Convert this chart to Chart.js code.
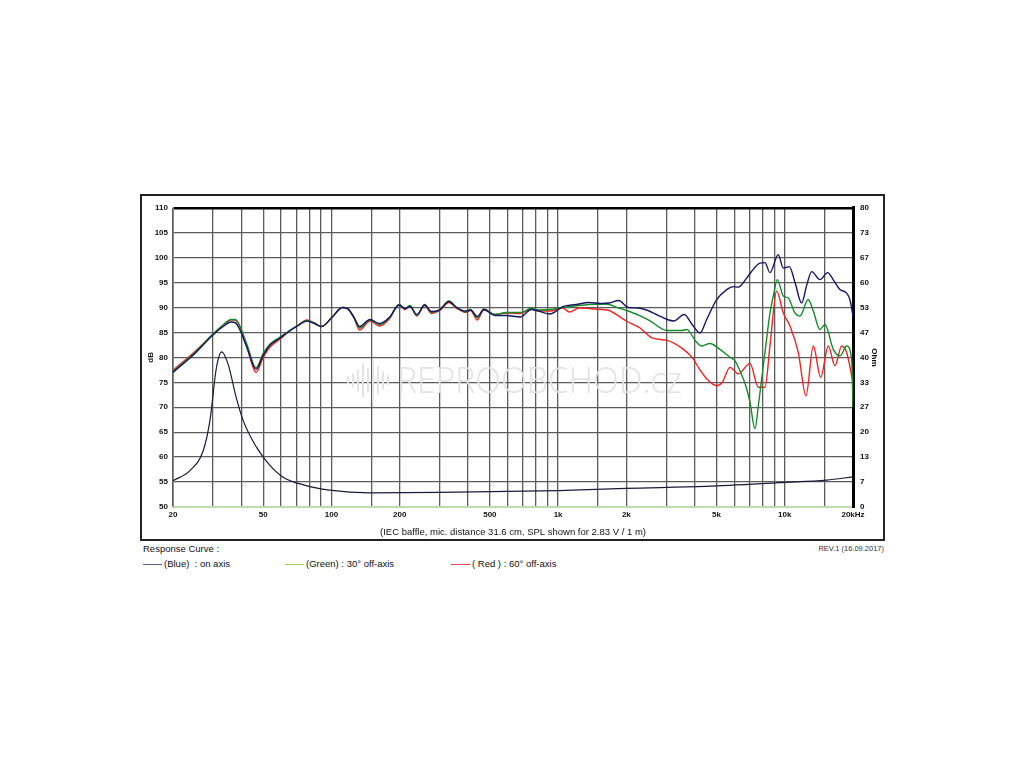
<!DOCTYPE html>
<html>
<head>
<meta charset="utf-8">
<script src="https://cdn.jsdelivr.net/npm/chart.js@4.4.1/dist/chart.umd.min.js"></script>
<style>
  body { margin: 0; background: #fff; width: 1024px; height: 768px; position: relative; font-family: "Liberation Sans", Arial, sans-serif; color: #111; }
  #frame { position: absolute; left: 140px; top: 194px; width: 741px; height: 343px; border: 2px solid #222; }
  #frame canvas { display: block; }
  .txt { position: absolute; font-size: 9.5px; white-space: nowrap; }
  #rev { position: absolute; right: 140px; top: 544px; font-size: 7.5px; color: #333; }
  .key { position: absolute; top: 564px; width: 19px; height: 0; border-top: 1.5px solid; }
</style>
</head>
<body>
<div id="frame"><canvas id="fr" width="741" height="343"></canvas></div>

<div class="txt" style="left:143px; top:543px;">Response Curve :</div>
<div id="rev">REV.1 (16.09.2017)</div>

<div class="key" style="left:143px; border-color:#5a5a96;"></div>
<div class="txt" style="left:164px; top:558px;">(Blue)&nbsp; : on axis</div>
<div class="key" style="left:285px; border-color:#9ccc4a;"></div>
<div class="txt" style="left:306px; top:558px;">(Green) : 30° off-axis</div>
<div class="key" style="left:451px; border-color:#ea4a50;"></div>
<div class="txt" style="left:472px; top:558px;">( Red ) : 60° off-axis</div>

<script>
// Frequency points shared by the three SPL curves below 1 kHz
const freqLow = [20, 25, 30, 34, 36, 37.5, 39, 42.4, 46.5, 50, 53.4, 59, 65.4, 72, 78, 84, 90.5, 100, 112, 118,
                 126, 133, 148, 163, 180, 199, 211, 222, 238, 258, 276, 300, 330, 356, 392, 411, 440, 470, 527, 592,
                 680, 762, 820, 920];

// (Blue) on axis, dB
const blueLow = [77.0, 80.8, 84.5, 86.5, 87.1, 87.0, 86.0, 82.0, 77.6, 80.4, 82.4, 83.8, 85.3, 86.5, 87.3, 86.8, 86.2, 87.9, 90.0, 89.8,
                 88.0, 86.2, 87.6, 86.8, 88.0, 90.5, 89.8, 90.2, 88.6, 90.5, 89.2, 89.5, 91.2, 90.0, 89.3, 89.5, 88.2, 89.6, 88.4, 88.4,
                 88.1, 89.6, 89.3, 88.7];
const blueHighFreq = [1050, 1200, 1370, 1550, 1680, 1850, 2040, 2250, 2490, 2750, 3030, 3240, 3600, 3900, 4226, 4524, 5008, 5544, 5929, 6238,
                      6792, 7300, 7775, 8178, 8604, 9362, 9852, 10472, 11100, 11868, 12500, 13144, 14300, 15464, 16400, 17524, 18752, 19400, 20000];
const blueHigh = [90.2, 90.6, 91.0, 90.8, 90.9, 91.4, 90.0, 89.9, 89.4, 88.5, 87.6, 87.3, 88.6, 86.6, 84.9, 87.6, 91.6, 93.6, 94.2, 94.1,
                  95.9, 97.8, 98.9, 99.0, 97.0, 100.6, 97.9, 98.2, 95.0, 90.9, 94.5, 97.2, 95.6, 97.0, 95.5, 93.6, 92.9, 91.5, 88.3];

// (Green) 30° off-axis, dB
const greenLow = [77.2, 81.0, 84.7, 86.9, 87.6, 87.6, 86.8, 82.6, 77.9, 80.8, 82.6, 84.0, 85.4, 86.6, 87.4, 86.9, 86.2, 87.9, 90.0, 89.8,
                  87.9, 85.9, 87.5, 86.6, 87.9, 90.6, 89.8, 90.4, 88.4, 90.6, 89.0, 89.6, 91.3, 90.1, 89.1, 89.6, 87.9, 89.7, 88.6, 89.0,
                  89.0, 89.8, 89.5, 89.6];
const greenHighFreq = [1050, 1370, 1620, 1850, 2040, 2490, 3030, 3500, 3700, 4040, 4300, 4678, 5181, 5734, 6032, 6561, 6792, 7024, 7390, 7644,
                       7908, 8178, 8604, 8898, 9268, 9852, 10364, 11092, 11668, 12698, 13360, 14300, 15046, 16370, 17524, 18752, 19726, 20000];
const greenHigh = [90.0, 90.6, 90.7, 89.9, 89.3, 87.6, 85.4, 85.4, 85.6, 83.3, 82.3, 82.8, 81.6, 80.0, 79.3, 75.7, 73.7, 71.0, 65.7, 70.3,
                   75.7, 81.0, 88.9, 92.3, 95.6, 92.3, 91.9, 88.9, 88.3, 91.6, 89.3, 85.6, 86.6, 81.6, 80.3, 82.3, 79.6, 70.0];

// (Red) 60° off-axis, dB
const redLow = [77.4, 81.2, 84.6, 86.8, 87.5, 87.5, 86.6, 82.0, 77.0, 80.0, 82.0, 83.6, 85.3, 86.6, 87.5, 86.9, 86.2, 87.9, 90.0, 89.7,
                87.8, 85.5, 87.3, 86.3, 87.7, 90.6, 89.6, 90.3, 88.3, 90.4, 88.8, 89.4, 91.0, 89.9, 89.0, 89.4, 87.5, 89.5, 88.6, 88.9,
                88.8, 89.7, 89.3, 89.3];
const redHighFreq = [1050, 1120, 1240, 1370, 1570, 1680, 2000, 2300, 2600, 3030, 3500, 3900, 4226, 4524, 5008, 5300, 5734, 6238, 7024, 7644,
                     8178, 8604, 9211, 9852, 10545, 11472, 12404, 13360, 14403, 15560, 16654, 17826, 18752, 20000];
const redHigh = [89.9, 89.1, 89.9, 89.8, 89.6, 89.4, 87.3, 85.9, 83.9, 83.4, 81.9, 80.0, 77.5, 75.7, 74.3, 75.0, 78.0, 76.7, 78.8, 74.0,
                 74.0, 82.3, 93.3, 88.9, 86.3, 81.0, 72.3, 82.3, 76.0, 82.3, 78.3, 82.3, 81.0, 75.0];

// Impedance, Ohm (right axis)
const impFreq = [20, 23.8, 27.2, 29.1, 31.1, 32.8, 35.0, 38.0, 40.8, 46.7, 53.4, 61, 75.9, 98, 148, 300, 1000, 2000, 4500, 8300, 9400, 15300, 20000];
const impOhm = [7.0, 9.8, 15.1, 23.1, 37.3, 41.5, 38.2, 29.3, 23.1, 16.0, 11.2, 8.05, 5.85, 4.5, 3.8, 3.9, 4.4, 5.0, 5.5, 6.3, 6.5, 7.2, 8.05];

// Axis ticks
const freqGrid = [20, 30, 40, 50, 60, 70, 80, 90, 100, 150, 200, 300, 400, 500, 600, 700, 800, 900,
                  1000, 1500, 2000, 3000, 4000, 5000, 6000, 7000, 8000, 9000, 10000, 15000, 20000];
const freqLabelValues = [20, 50, 100, 200, 500, 1000, 2000, 5000, 10000, 20000];
const freqLabels = ['20', '50', '100', '200', '500', '1k', '2k', '5k', '10k', '20kHz'];
const ohmLabels = ['0', '7', '13', '20', '27', '33', '40', '47', '53', '60', '67', '73', '80'];

function pts(fs, vs) {
    return fs.map((f, i) => ({ x: f, y: vs[i] }));
}

const tickFont = { family: '"Liberation Sans", Arial, sans-serif', size: 8, weight: 'bold' };

// watermark behind the curves
const watermark = {
    id: 'watermark',
    beforeDatasetsDraw(chart) {
        const { ctx, chartArea } = chart;
        const cx = (chartArea.left + chartArea.right) / 2;
        const cy = (chartArea.top + chartArea.bottom) / 2 + 25;
        ctx.save();
        ctx.fillStyle = '#e3e3e3';
        // sound-wave icon
        const bars = [8, 14, 22, 34, 24, 40, 28, 18, 10];
        bars.forEach((h, i) => {
            ctx.fillRect(cx - 166 + i * 5, cy - h / 2 - 2, 2, h);
        });
        ctx.font = '300 37px "Open Sans", "DejaVu Sans", sans-serif';
        ctx.textBaseline = 'middle';
        ctx.fillText('REPROOBCHOD.cz', cx - 116, cy, 285);
        ctx.restore();
    }
};

new Chart(document.getElementById('fr'), {
    type: 'line',
    data: {
        datasets: [
            {
                label: 'on axis',
                data: pts(freqLow.concat(blueHighFreq), blueLow.concat(blueHigh)),
                borderColor: '#17175e',
                borderWidth: 1.4,
                yAxisID: 'db'
            },
            {
                label: '30° off-axis',
                data: pts(freqLow.concat(greenHighFreq), greenLow.concat(greenHigh)),
                borderColor: '#178a2c',
                borderWidth: 1.4,
                yAxisID: 'db'
            },
            {
                label: '60° off-axis',
                data: pts(freqLow.concat(redHighFreq), redLow.concat(redHigh)),
                borderColor: '#ec2424',
                borderWidth: 1.4,
                yAxisID: 'db'
            },
            {
                label: 'Impedance',
                data: pts(impFreq, impOhm),
                borderColor: '#1a1a3a',
                borderWidth: 1.2,
                yAxisID: 'ohm'
            }
        ]
    },
    options: {
        responsive: false,
        animation: false,
        devicePixelRatio: 1,
        layout: { padding: { top: 10, left: 0, right: 0, bottom: 0 } },
        elements: {
            point: { radius: 0 },
            line: { cubicInterpolationMode: 'monotone', fill: false }
        },
        plugins: {
            legend: { display: false },
            tooltip: { enabled: false }
        },
        scales: {
            x: {
                type: 'logarithmic',
                min: 20,
                max: 20000,
                afterBuildTicks: (scale) => { scale.ticks = freqGrid.map(v => ({ value: v })); },
                afterFit: (scale) => { scale.height = 32; },
                ticks: {
                    autoSkip: false,
                    maxRotation: 0,
                    padding: 3,
                    color: '#111',
                    font: tickFont,
                    callback: (v) => {
                        const i = freqLabelValues.indexOf(v);
                        return i >= 0 ? freqLabels[i] : '';
                    }
                },
                grid: { color: '#5c5c5c', lineWidth: 1.3, drawTicks: false },
                border: { color: '#bcdcae', width: 2 },
                title: {
                    display: true,
                    text: '(IEC baffle, mic. distance 31.6 cm, SPL shown for 2.83 V / 1 m)',
                    color: '#111',
                    font: { family: '"Liberation Sans", Arial, sans-serif', size: 9.5 },
                    padding: { top: 0, bottom: 1 }
                }
            },
            db: {
                position: 'left',
                min: 50,
                max: 110,
                afterFit: (scale) => { scale.width = 31; },
                ticks: { stepSize: 5, padding: 5, color: '#111', font: tickFont },
                grid: {
                    drawTicks: false,
                    color: (c) => c.tick.value === 110 ? '#000' : (c.tick.value === 50 ? 'rgba(0,0,0,0)' : '#5c5c5c'),
                    lineWidth: (c) => c.tick.value === 110 ? 2.5 : 1.3
                },
                border: { color: '#8a8a8a', width: 1 },
                title: {
                    display: true,
                    text: 'dB',
                    color: '#111',
                    font: tickFont,
                    padding: { top: 4, bottom: 0 }
                }
            },
            ohm: {
                position: 'right',
                min: 0,
                max: 80,
                afterBuildTicks: (scale) => { scale.ticks = ohmLabels.map((t, i) => ({ value: i * 80 / 12 })); },
                afterFit: (scale) => { scale.width = 30; },
                ticks: {
                    padding: 7,
                    color: '#111',
                    font: tickFont,
                    callback: (v, i) => ohmLabels[i]
                },
                grid: { drawOnChartArea: false, drawTicks: false },
                border: { color: '#000', width: 3 },
                title: {
                    display: true,
                    text: 'Ohm',
                    color: '#111',
                    font: tickFont,
                    padding: { top: 4, bottom: 0 }
                }
            }
        }
    },
    plugins: [watermark]
});
</script>
</body>
</html>
